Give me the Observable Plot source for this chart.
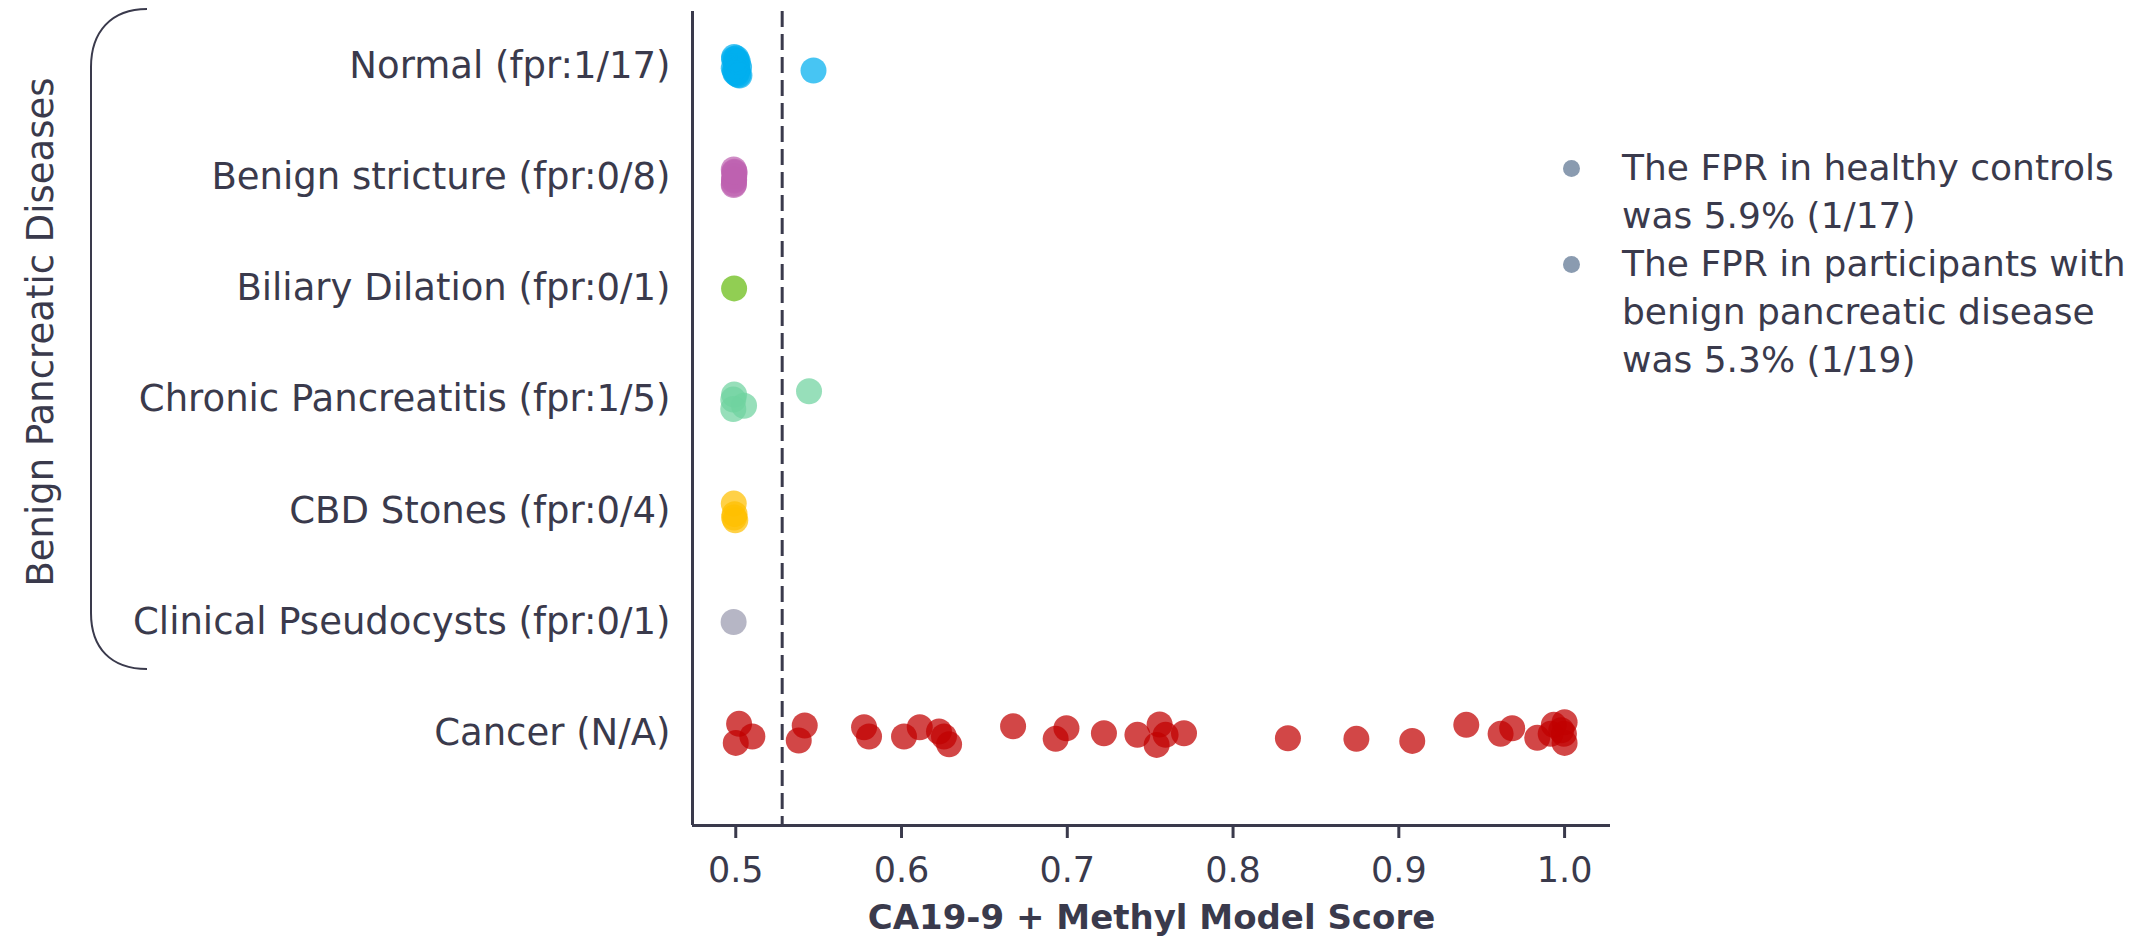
<!DOCTYPE html>
<html>
<head>
<meta charset="utf-8">
<script src="https://cdn.jsdelivr.net/npm/d3@7"></script>
<script src="https://cdn.jsdelivr.net/npm/@observablehq/plot@0.6"></script>
<style>
  html, body { margin: 0; padding: 0; background: #fff; }
  #wrap { position: relative; width: 2144px; height: 944px; font-family: "DejaVu Sans", "Open Sans", sans-serif; color: #3a3a4c; }
  #ylab { position: absolute; left: 40px; top: 332px; transform: translate(-50%, -50%) rotate(-90deg); white-space: nowrap; font-size: 37px; }
  #bracket { position: absolute; left: 0; top: 0; }
  #legend { position: absolute; left: 1563px; top: 144px; font-size: 36px; line-height: 48px; }
  .item { position: relative; padding-left: 59px; }
  .bullet { position: absolute; left: 0; top: 16px; width: 17px; height: 17px; border-radius: 50%; background: #8a9bb0; }
</style>
</head>
<body>
<div id="wrap">
  <div id="chart"></div>
  <svg id="bracket" width="200" height="700"><path d="M147,9 C111,9 91,32 91,67 L91,613 C91,648 111,669 147,669" fill="none" stroke="#3a3a4c" stroke-width="2"/></svg>
  <div id="ylab">Benign Pancreatic Diseases</div>
  <div id="legend"></div>
</div>
<script>
// Categories (top to bottom) and colours
const categories = [
  "Normal (fpr:1/17)",
  "Benign stricture (fpr:0/8)",
  "Biliary Dilation (fpr:0/1)",
  "Chronic Pancreatitis (fpr:1/5)",
  "CBD Stones (fpr:0/4)",
  "Clinical Pseudocysts (fpr:0/1)",
  "Cancer (N/A)"
];
const colors = ["#00aeef", "#be61b0", "#66bb10", "#6fd3a0", "#ffbf00", "#9a9aae", "#c00000"];

// Model scores per group, with strip-plot jitter (in category units)
const normalScores = [0.4990, 0.5000, 0.5010, 0.5020, 0.4995, 0.5005, 0.5015, 0.4990, 0.5000, 0.5010, 0.5022, 0.4988, 0.5003, 0.5012, 0.4997, 0.5008, 0.5469];
const normalJitter = [-0.08, -0.05, -0.02, 0.01, 0.04, 0.07, 0.08, -0.06, 0.0, 0.03, 0.085, 0.02, -0.07, -0.04, 0.06, 0.05, 0.04];
const strictureScores = [0.4988, 0.4990, 0.4992, 0.4989, 0.4991, 0.4988, 0.4990, 0.4992];
const strictureJitter = [-0.07, 0.02, -0.04, 0.06, -0.01, 0.07, 0.03, -0.05];
const biliaryScores = [0.4990];
const biliaryJitter = [0.0];
const chronicScores = [0.4990, 0.4985, 0.5050, 0.4985, 0.5442];
const chronicJitter = [-0.045, 0.0, 0.055, 0.085, -0.075];
const cbdScores = [0.4988, 0.4993, 0.4997, 0.4990];
const cbdJitter = [-0.065, 0.03, 0.085, 0.06];
const pseudocystScores = [0.4987];
const pseudocystJitter = [0.0];
const cancerScores = [0.502, 0.510, 0.500, 0.5416, 0.538, 0.5774, 0.5804, 0.6015, 0.611, 0.6226, 0.6256, 0.6287, 0.6673, 0.693, 0.6995, 0.7221, 0.7423, 0.7557, 0.7593, 0.7539, 0.7704, 0.8331, 0.8744, 0.9081, 0.9407, 0.9614, 0.9684, 0.9835, 0.9935, 1.0, 0.9916, 0.9996, 1.0, 0.998];
const cancerJitter = [-0.084, 0.03, 0.087, -0.069, 0.066, -0.054, 0.03, 0.03, -0.054, -0.015, 0.03, 0.10, -0.063, 0.051, -0.045, 0.0, 0.015, -0.078, 0.015, 0.105, 0.0, 0.045, 0.051, 0.069, -0.075, 0.006, -0.045, 0.042, -0.075, -0.099, 0.006, 0.006, 0.087, -0.027];

const threshold = 0.528;
const xDomain = [0.4739, 1.0277];
const yDomain = [-0.49, 6.83];
const xTicks = [0.5, 0.6, 0.7, 0.8, 0.9, 1.0];
const xLabel = "CA19-9 + Methyl Model Score";
const legendTexts = [
  "The FPR in healthy controls<br>was 5.9% (1/17)",
  "The FPR in participants with<br>benign pancreatic disease<br>was 5.3% (1/19)"
];

const groups = [
  [normalScores, normalJitter],
  [strictureScores, strictureJitter],
  [biliaryScores, biliaryJitter],
  [chronicScores, chronicJitter],
  [cbdScores, cbdJitter],
  [pseudocystScores, pseudocystJitter],
  [cancerScores, cancerJitter]
];
const rows = groups.flatMap(([s, j], i) => s.map((v, k) => ({score: v, pos: i + j[k], cat: categories[i]})));

const ink = "#3a3a4c";
const chart = Plot.plot({
  width: 2144,
  height: 944,
  marginLeft: 692,
  marginRight: 534,
  marginTop: 11,
  marginBottom: 119,
  style: {fontFamily: '"DejaVu Sans", "Open Sans", sans-serif', fontSize: "35px", color: ink, background: "white", overflow: "visible"},
  x: {domain: xDomain},
  y: {domain: yDomain, reverse: true},
  color: {domain: categories, range: colors},
  marks: [
    Plot.axisX({ticks: xTicks, tickFormat: d3.format(".1f"), tickSize: 13, tickPadding: 19, strokeWidth: 3, stroke: ink, label: null}),
    Plot.axisY({ticks: d3.range(categories.length), tickFormat: i => categories[i], tickSize: 0, tickPadding: 22, fontSize: 37, label: null}),
    Plot.ruleX([threshold], {stroke: ink, strokeWidth: 3, strokeDasharray: "16,7"}),
    Plot.dot(rows, {x: "score", y: "pos", fill: "cat", r: 13, fillOpacity: 0.72}),
    Plot.ruleX([xDomain[0]], {stroke: ink, strokeWidth: 3}),
    Plot.ruleY([yDomain[1]], {stroke: ink, strokeWidth: 3, x1: xDomain[0], x2: xDomain[1]}),
    Plot.text([xLabel], {frameAnchor: "bottom", dy: 103, fontWeight: "bold", fontSize: 34, fill: ink})
  ]
});
document.getElementById("chart").appendChild(chart);

const legend = document.getElementById("legend");
legendTexts.forEach(t => {
  const item = document.createElement("div");
  item.className = "item";
  item.innerHTML = '<span class="bullet"></span>' + t;
  legend.appendChild(item);
});
</script>
</body>
</html>
